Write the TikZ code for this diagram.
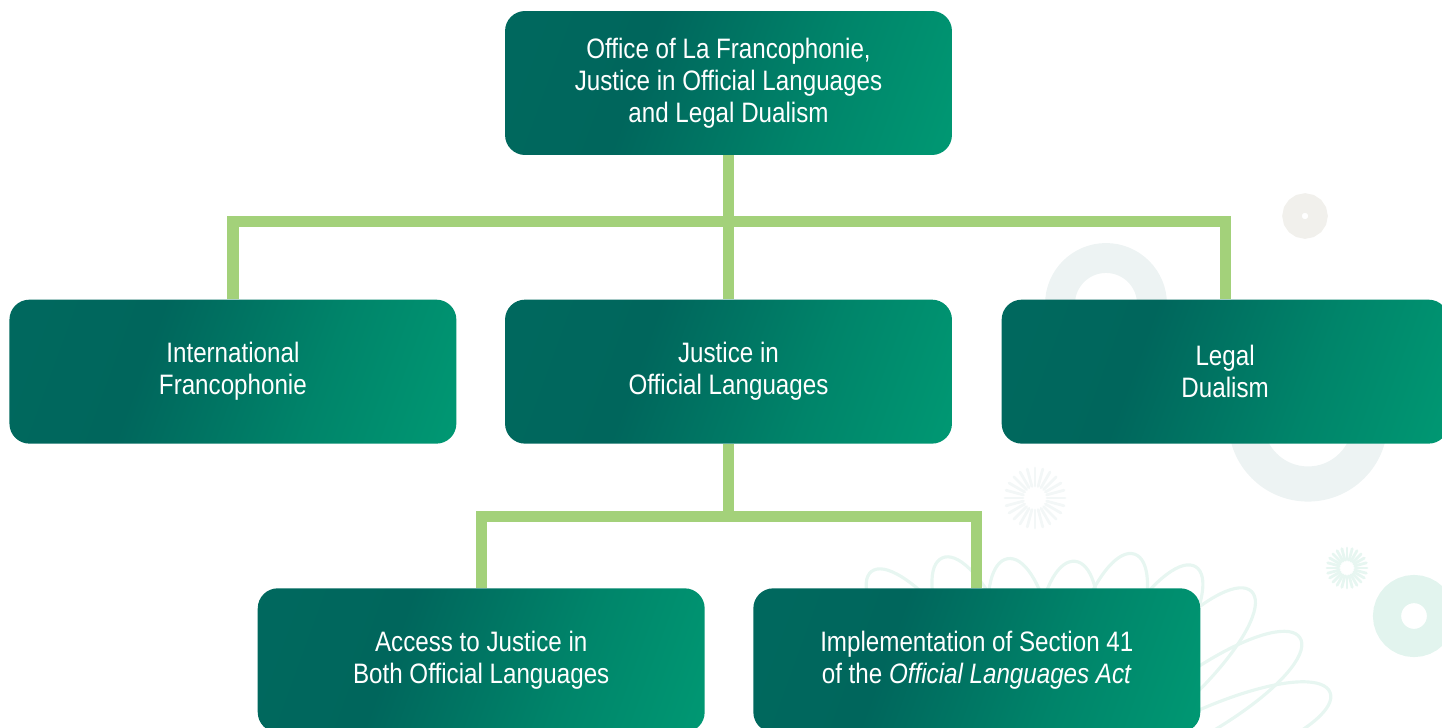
\documentclass[tikz,border=0pt]{standalone}
\usepackage{fontspec}
\setmainfont{Liberation Sans}[FakeStretch=0.86]
\usepackage{xcolor}
\usetikzlibrary{positioning}

\definecolor{unitdark}{HTML}{00665C}
\definecolor{unitmid}{HTML}{006B60}
\definecolor{unitlight}{HTML}{00AA7B}
\definecolor{linkgreen}{HTML}{A3D17A}
\definecolor{ringgrey}{HTML}{EDF3F3}
\definecolor{gearbeige}{HTML}{F1F0EC}
\definecolor{ringmint}{HTML}{E2F4EE}
\definecolor{petal}{HTML}{E7F6F1}

\pgfdeclarehorizontalshading{unitshade}{100bp}{color(0bp)=(unitmid); color(38bp)=(unitdark); color(62bp)=(unitdark!55!unitlight); color(100bp)=(unitlight)}

\begin{document}
\begin{tikzpicture}[x=0.02cm, y=-0.02cm,
        unit/.style={rectangle, rounded corners=0.4cm, shading=unitshade, shading angle=-20,
            minimum width=8.94cm, minimum height=2.88cm, inner sep=0pt, align=center,
            text=white, font=\fontsize{16}{18.2}\selectfont,
            execute at begin node=\rule{0pt}{16pt}},
        link/.style={draw=linkgreen, line width=6.4pt, line cap=butt, line join=miter},
        burst/.style={line width=1.6pt, line cap=round}
    ]
        \useasboundingbox (0,0) rectangle (1442,727);

        % Background decoration
        \draw[ringgrey, line width=17pt] (1106,304) circle (46);
        \draw[ringgrey, line width=20pt] (1308,422) circle (62);
        \draw[gearbeige, line width=11pt] (1305,216) circle (13);
        \draw[ringmint, line width=16pt] (1414,616) circle (27);
        \foreach \a in {0,15,...,345} {
            \draw[burst, ringgrey!70!white, shift={(1035,498)}] (\a:12) -- (\a:30);
            \draw[burst, petal, shift={(1347,568)}] (\a:8) -- (\a:20);
        }
        \foreach \ang/\len in {38/290,24/265,10/245,-6/240,-19/260,-32/275,-44/290,-57/298,-69/300} {
            \draw[petal, line width=1.8pt, rotate around={\ang:(1050,800)}]
                (1050,800) .. controls (1000,800-0.55*\len) and (1018,800-\len) .. (1050,800-\len)
                .. controls (1082,800-\len) and (1100,800-0.55*\len) .. (1050,800);
        }

        % Units
        \node[unit] (office) at (728.5,83) {Office of La Francophonie,\\Justice in Official Languages\\and Legal Dualism};
        \node[unit, below=2.88cm of office] (justice) {Justice in\\Official Languages};
        \node[unit, left=0.96cm of justice] (intl) {International\\Francophonie};
        \node[unit, right=0.98cm of justice] (dualism) {Legal\\Dualism};
        \node[unit, below left=2.88cm and 0.47cm of justice.south] (access) {Access to Justice in\\Both Official Languages};
        \node[unit, below right=2.88cm and 0.49cm of justice.south] (section) {Implementation of Section 41\\of the \textit{Official Languages Act}};

        % Connections
        \coordinate (topbus) at ([yshift=-1.32cm]office.south);
        \coordinate (lowbus) at ([yshift=-1.45cm]justice.south);
        \draw[link] (office.south) -- (justice.north);
        \draw[link] (intl.north) -- (intl.north |- topbus) -- (dualism.north |- topbus) -- (dualism.north);
        \draw[link] (justice.south) -- (lowbus);
        \draw[link] (access.north) -- (access.north |- lowbus) -- (section.north |- lowbus) -- (section.north);
    \end{tikzpicture}
\end{document}
